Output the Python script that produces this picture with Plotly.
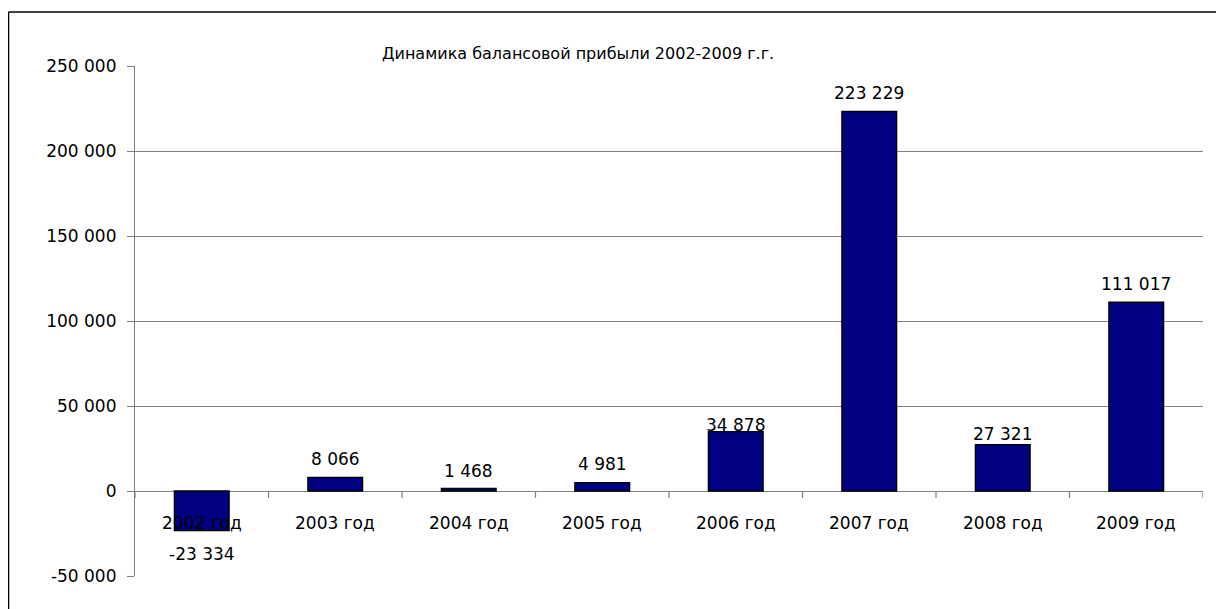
import plotly.graph_objects as go

categories = ["2002 год", "2003 год", "2004 год", "2005 год", "2006 год", "2007 год", "2008 год", "2009 год"]
profit = [-23334, 8066, 1468, 4981, 34878, 223229, 27321, 111017]
y_ticks = [-50000, 0, 50000, 100000, 150000, 200000, 250000]
title_text = "Динамика балансовой прибыли 2002-2009 г.г."

# pixel offsets of the data labels from the bar ends (style, not data)
label_shift = [-23, 18, 18, 19, 7, 19, 11, 18]


def fmt(v):
    return f"{v:,}".replace(",", " ")


FONT = "DejaVu Sans"
W, H = 1224, 609
OFF = 8  # page body margin offset
ML, MR, MT, MB = 135 - OFF, W - (1203 - OFF), 66 - OFF, H - (576 - OFF)
pw, ph = W - ML - MR, H - MT - MB

xs = list(range(len(categories)))

fig = go.Figure()
fig.add_trace(go.Bar(
    x=xs, y=profit,
    marker=dict(color="#000080", line=dict(color="#000000", width=1.3)),
    width=0.41,
    hoverinfo="skip",
))

shapes = []
for i in range(len(categories) + 1):
    shapes.append(dict(type="line", xref="x", yref="y", x0=i - 0.5, x1=i - 0.5,
                       ysizemode="pixel", yanchor=0, y0=0, y1=-7,
                       line=dict(color="#808080", width=1.2)))
# outer chart border (top and left visible)
bx = (8 - OFF - ML) / pw + 0.0005
by_top = (H - MB - (12 - OFF)) / ph
shapes.append(dict(type="line", xref="paper", yref="paper", x0=bx, x1=(W + 5 - ML) / pw,
                   y0=by_top, y1=by_top, line=dict(color="#000000", width=1.5), layer="above"))
shapes.append(dict(type="line", xref="paper", yref="paper", x0=bx, x1=bx,
                   y0=by_top, y1=-(MB + 5) / ph, line=dict(color="#000000", width=1.5), layer="above"))

annotations = []
for i, c in enumerate(categories):
    annotations.append(dict(x=i, y=0, xref="x", yref="y", text=c, showarrow=False,
                            yshift=-32, font=dict(family=FONT, size=17, color="#000000")))
for i, v in enumerate(profit):
    annotations.append(dict(x=i, y=v, xref="x", yref="y", text=fmt(v), showarrow=False,
                            yshift=label_shift[i], font=dict(family=FONT, size=17, color="#000000")))
annotations.append(dict(x=(578 - OFF - ML) / pw, y=(H - MB - (42 - OFF)) / ph, xref="paper", yref="paper",
                        text=title_text, showarrow=False,
                        font=dict(family=FONT, size=16, color="#000000")))

fig.update_layout(
    width=W, height=H,
    margin=dict(l=ML, r=MR, t=MT, b=MB),
    paper_bgcolor="white", plot_bgcolor="white",
    showlegend=False,
    shapes=shapes,
    annotations=annotations,
    xaxis=dict(range=[-0.5, len(categories) - 0.5], showticklabels=False, showgrid=False,
               zeroline=False, showline=False, ticks="", fixedrange=True),
    yaxis=dict(range=[-50000, 250000], tickvals=y_ticks, ticktext=[fmt(v) for v in y_ticks],
               showgrid=True, gridcolor="#808080", gridwidth=1,
               zeroline=True, zerolinecolor="#808080", zerolinewidth=1.2,
               showline=True, linecolor="#808080", linewidth=1.2,
               ticks="outside", ticklen=7, tickcolor="#808080",
               tickfont=dict(family=FONT, size=17, color="#000000"),
               ticklabelstandoff=7, fixedrange=True),
)

fig.write_html("out.html")
